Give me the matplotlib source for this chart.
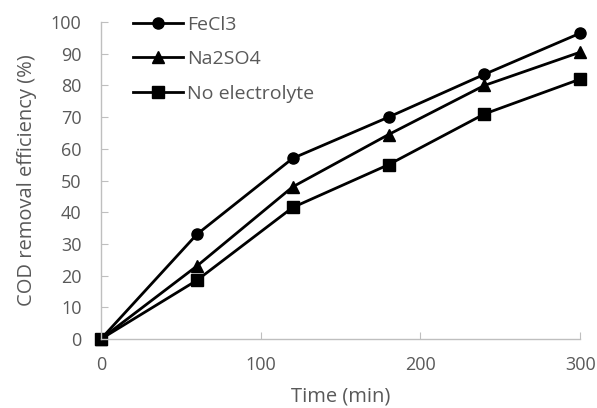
import matplotlib.pyplot as plt

time = [0, 60, 120, 180, 240, 300]
fecl3 = [0, 33, 57, 70, 83.5, 96.5]
na2so4 = [0, 23, 48, 64.5, 80, 90.5]
no_elec = [0, 18.5, 41.5, 55, 71, 82]

plt.rcParams['font.family'] = ['Open Sans', 'DejaVu Sans']

fig = plt.figure(figsize=(5.97, 4.08), dpi=100)
ax = fig.add_axes([0.169, 0.169, 0.803, 0.777])

ax.plot(time, fecl3, color='black', lw=2, marker='o', ms=8, label='FeCl3')
ax.plot(time, na2so4, color='black', lw=2, marker='^', ms=8, label='Na2SO4')
ax.plot(time, no_elec, color='black', lw=2, marker='s', ms=8, label='No electrolyte')

ax.set_xlim(0, 300)
ax.set_ylim(0, 100)
ax.set_xticks([0, 100, 200, 300])
ax.set_yticks(range(0, 101, 10))
for s in ['top', 'right']:
    ax.spines[s].set_visible(False)
for s in ['left', 'bottom']:
    ax.spines[s].set_color('#bfbfbf')
    ax.spines[s].set_linewidth(1)
ax.tick_params(direction='in', color='#bfbfbf', labelcolor='#595959',
               labelsize=13, length=5)
ax.tick_params(axis='y', pad=14)
ax.tick_params(axis='x', pad=12)
ax.set_xlabel('Time (min)', color='#595959', fontsize=14.5, labelpad=9)
ax.set_ylabel('COD removal efficiency (%)', color='#595959', fontsize=14.5, labelpad=10)

ax.legend(loc='upper left', bbox_to_anchor=(0.03, 1.075), frameon=False,
          fontsize=14, handlelength=2.6, labelspacing=0.85, handletextpad=0.2,
          labelcolor='#595959')

for line in ax.lines:
    line.set_clip_on(False)

fig.savefig('out.png')
